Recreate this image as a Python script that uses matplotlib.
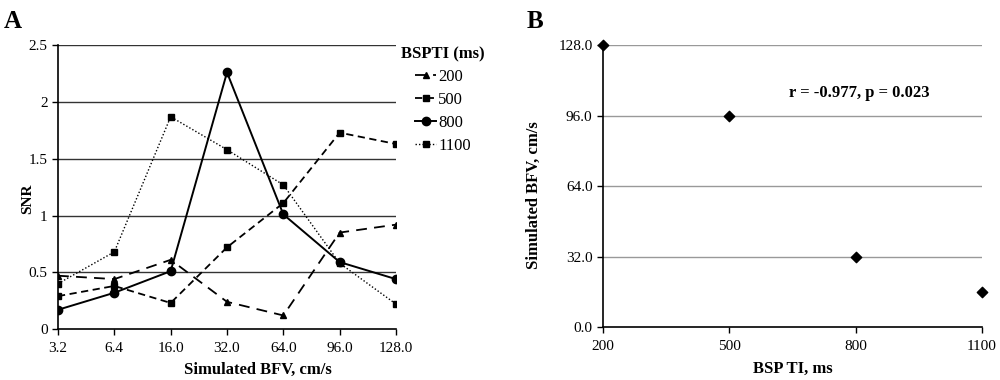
import matplotlib
matplotlib.use("Agg")
import matplotlib.pyplot as plt
import numpy as np

plt.rcParams['font.family'] = ['Liberation Serif', 'DejaVu Serif']

# Panel A data
bfv_labels = ["3.2", "6.4", "16.0", "32.0", "64.0", "96.0", "128.0"]
snr_200 = [0.47, 0.44, 0.61, 0.24, 0.12, 0.85, 0.92]
snr_500 = [0.29, 0.38, 0.23, 0.72, 1.11, 1.73, 1.63]
snr_800 = [0.17, 0.32, 0.51, 2.26, 1.01, 0.59, 0.44]
snr_1100 = [0.40, 0.68, 1.87, 1.58, 1.27, 0.58, 0.22]

# Panel B data
bsp_ti = [200, 500, 800, 1100]
sim_bfv = [128.0, 96.0, 32.0, 16.0]

fig = plt.figure(figsize=(10, 3.8), dpi=100)

# ---- Panel A
axA = fig.add_axes([0.058, 0.134, 0.338, 0.747])
x = np.arange(len(bfv_labels))
axA.plot(x, snr_200, color='black', lw=1.3, ls=(0, (6, 4)), marker='^', ms=5, label='200')
axA.plot(x, snr_500, color='black', lw=1.3, ls=(0, (4, 2.5)), marker='s', ms=5, label='500')
axA.plot(x, snr_800, color='black', lw=1.4, ls='-', marker='o', ms=6, label='800')
axA.plot(x, snr_1100, color='black', lw=1.0, ls=(0, (1, 1.5)), marker='s', ms=5, label='1100')

axA.set_xlim(0, len(bfv_labels) - 1)
axA.set_ylim(0, 2.5)
axA.set_yticks([0, 0.5, 1, 1.5, 2, 2.5])
axA.set_yticklabels(["0", "0.5", "1", "1.5", "2", "2.5"])
axA.set_xticks(x)
axA.set_xticklabels(bfv_labels)
for yv in [0.5, 1, 1.5, 2, 2.5]:
    axA.axhline(yv, color='#333333', lw=1.0, zorder=0)
for s in ['top', 'right']:
    axA.spines[s].set_visible(False)
axA.spines['left'].set_linewidth(1.2)
axA.spines['bottom'].set_linewidth(1.2)
axA.tick_params(axis='both', labelsize=11, length=4, width=1)
axA.tick_params(axis='x', pad=5)
axA.set_xlabel("Simulated BFV, cm/s", fontsize=12, fontweight='bold')
axA.xaxis.set_label_coords(0.59, -0.115)
axA.set_ylabel("SNR", fontsize=11, fontweight='bold')
axA.yaxis.set_label_coords(-0.07, 0.46)

leg = axA.legend(loc='upper left', bbox_to_anchor=(0.995, 1.02), frameon=False,
                 title="BSPTI (ms)", fontsize=12, handlelength=1.3, handletextpad=0.1,
                 labelspacing=0.42, borderaxespad=0.0)
leg.get_title().set_fontweight('bold')
leg.get_title().set_fontsize(12)

fig.text(0.004, 0.975, "A", fontsize=18, fontweight='bold', va='top')

# ---- Panel B
axB = fig.add_axes([0.603, 0.139, 0.379, 0.742])
axB.scatter(bsp_ti, sim_bfv, marker='D', s=28, color='black', zorder=3, clip_on=False)
axB.set_xlim(200, 1100)
axB.set_ylim(0, 128)
axB.set_xticks(bsp_ti)
axB.set_yticks([0, 32, 64, 96, 128])
axB.set_yticklabels(["0.0", "32.0", "64.0", "96.0", "128.0"])
for yv in [32, 64, 96, 128]:
    axB.axhline(yv, color='#999999', lw=1.0, zorder=0)
for s in ['top', 'right']:
    axB.spines[s].set_visible(False)
axB.spines['left'].set_linewidth(1.2)
axB.spines['bottom'].set_linewidth(1.2)
axB.tick_params(axis='both', labelsize=11, length=4, width=1)
axB.tick_params(axis='x', pad=5)
axB.set_xlabel("BSP TI, ms", fontsize=12, fontweight='bold')
axB.xaxis.set_label_coords(0.5, -0.12)
axB.set_ylabel("Simulated BFV, cm/s", fontsize=12, fontweight='bold')
axB.yaxis.set_label_coords(-0.16, 0.47)
axB.text(0.675, 0.83, "r = -0.977, p = 0.023", transform=axB.transAxes,
         fontsize=12, fontweight='bold', ha='center', va='center')

fig.text(0.527, 0.975, "B", fontsize=18, fontweight='bold', va='top')

fig.savefig("out.png", dpi=100)
